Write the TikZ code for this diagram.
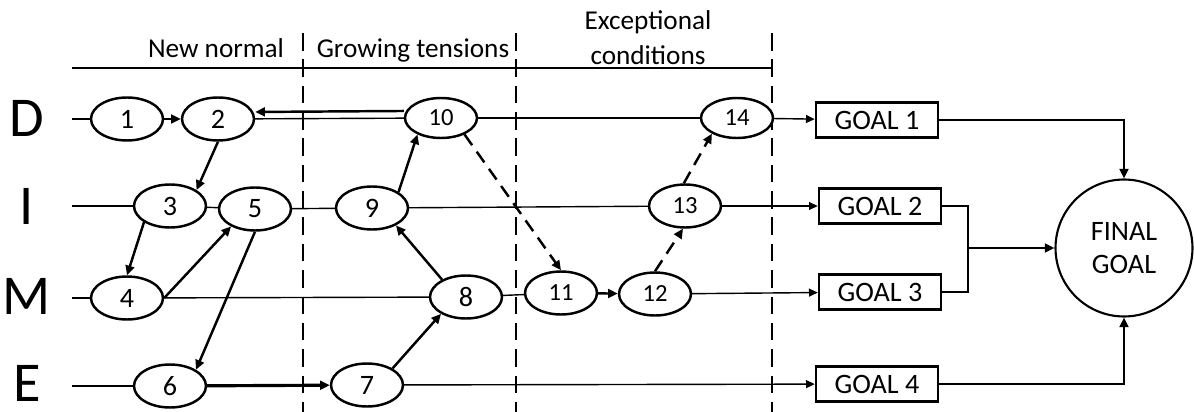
\documentclass[tikz,border=0pt]{standalone}
\usepackage{fontspec}
\setmainfont{Carlito}
\usetikzlibrary{arrows.meta}
\usetikzlibrary{shapes.geometric}

\begin{document}
\begin{tikzpicture}[x=0.02cm, y=-0.02cm,
        event/.style={draw, ellipse, line width=1.4pt, fill=white, inner sep=0pt, minimum width=1.44cm, minimum height=0.86cm, font=\fontsize{16}{16}\selectfont},
        bigevent/.style={event, font=\fontsize{14}{14}\selectfont},
        goal/.style={draw, line width=1.4pt, inner sep=0pt, minimum width=2.44cm, minimum height=0.7cm, font=\fontsize{16}{16}\selectfont},
        track/.style={line width=0.8pt},
        feed/.style={line width=0.8pt, -{Triangle[length=5pt, width=4.5pt]}},
        cause/.style={line width=1.4pt, -{Triangle[length=5.5pt, width=5pt]}},
        maybe/.style={cause, dash pattern=on 7.5pt off 4.5pt},
        phase/.style={line width=0.9pt, dash pattern=on 10pt off 5pt},
        stage/.style={font=\fontsize{15.5}{20}\selectfont, align=center}]
    \useasboundingbox (0,0) rectangle (1194,412);

    % phases along the top
    \coordinate (p0) at (72,68);
    \coordinate (p3) at (772,68);
    \draw[line width=1.4pt] (p0) -- (p3);
    \foreach \x in {303, 516, 772} {
            \draw[phase] (\x,33) -- (\x,412);
        }
    \node[stage, anchor=base] (normal) at (216,58) {New normal};
    \node[stage, anchor=base] (tension) at (413,58) {Growing tensions};
    \node[stage] (except) at (648,38) {Exceptional\\conditions};

    % events
    \node[event] (n1) at (127,119) {1};
    \node[event] (n2) at (218,119) {2};
    \node[event] (n3) at (170,206) {3};
    \node[event] (n4) at (127,298) {4};
    \node[event] (n5) at (255,209) {5};
    \node[event] (n6) at (170,386) {6};
    \node[event] (n7) at (367,385) {7};
    \node[event] (n8) at (466,297) {8};
    \node[event] (n9) at (372,208) {9};
    \node[bigevent, minimum height=0.8cm] (n10) at (441,118) {10};
    \node[bigevent] (n11) at (561,293) {11};
    \node[bigevent] (n12) at (655,294) {12};
    \node[bigevent] (n13) at (685,206) {13};
    \node[bigevent, minimum height=0.8cm] (n14) at (737,118) {14};

    % goals
    \node[goal] (g1) at (877,120) {GOAL 1};
    \node[goal] (g2) at (880,206) {GOAL 2};
    \node[goal] (g3) at (880,292) {GOAL 3};
    \node[goal] (g4) at (877,384) {GOAL 4};
    \node[draw, circle, line width=1.2pt, minimum size=2.74cm, inner sep=0pt, align=center, font=\fontsize{16}{19}\selectfont] (final) at (1124,248) {FINAL\\GOAL};

    % the four tracks
    \foreach \lab/\y/\first in {D/118/n1, I/206/n3, M/296/n4, E/383/n6} {
            \node[inner sep=0pt, font=\fontsize{32}{32}\selectfont] (row\lab) at (27,\y) {\lab};
            \coordinate (in\lab) at (\first -| p0);
            \draw[track] (in\lab) -- (\first);
        }
    \draw[track] (n2) -- (n10);
    \draw[track] (n10) -- (n14);
    \draw[feed] (n14) -- (g1);
    \draw[track] (n3) -- (n5);
    \draw[track] (n5) -- (n9);
    \draw[track] (n9) -- (n13);
    \draw[feed] (n13) -- (g2);
    \draw[track] (n4) -- (n8);
    \draw[track] (n8) -- (n11);
    \draw[feed] (n12) -- (g3);
    \draw[feed] (n7) -- (g4);

    % influences between events
    \draw[cause] ([yshift=4pt]n10.west) -- ([yshift=4pt]n2.east);
    \draw[cause] (n1) -- (n2);
    \draw[cause] (n2.south) -- (n3.31);
    \draw[cause] (n3.212) -- (n4.north);
    \draw[cause] (n4.east) -- (n5.216);
    \draw[cause] (n5.south) -- (n6.32);
    \draw[cause, line width=1.8pt] (n6) -- (n7);
    \draw[cause] (n7.33) -- (n8.214);
    \draw[cause] (n8.144) -- (n9.324);
    \draw[cause] (n9.31) -- (n10.215);
    \draw[maybe] (n10.325) -- (n11.north);
    \draw[cause] (n11) -- (n12);
    \draw[maybe] (n12.north) -- (n13.265);
    \draw[maybe] (n13.93) -- (n14.212);

    % goals feeding the final goal
    \coordinate (merge) at (968,248);
    \draw[cause] (g1.east) -| (final.north);
    \draw[cause] (g4.east) -| (final.south);
    \draw[line width=1.4pt] (g2.east) -| (merge) |- (g3.east);
    \draw[cause] (merge) -- (final.west);
\end{tikzpicture}
\end{document}
